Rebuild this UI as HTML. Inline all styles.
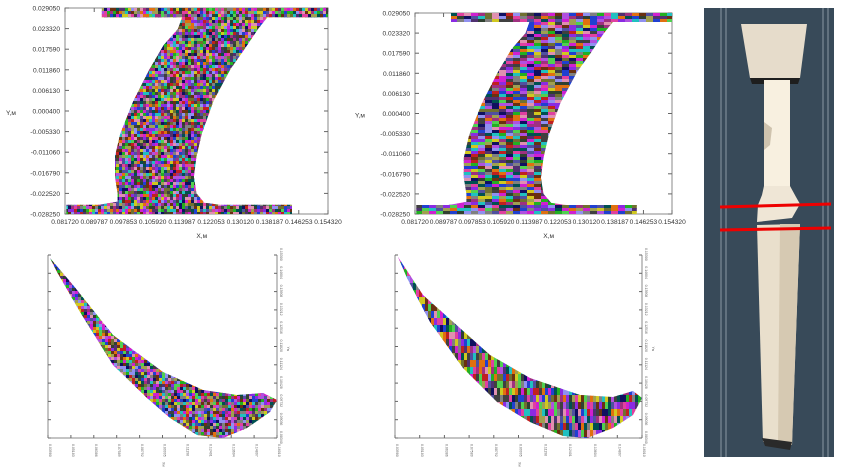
<!DOCTYPE html>
<html><head><meta charset="utf-8">
<style>
html,body{margin:0;padding:0;background:#fff;}
svg{display:block;font-family:"Liberation Sans",sans-serif;}
.tk{font-size:6.6px;fill:#333;}
.sm{font-size:3.5px;fill:#666;}
</style></head>
<body>
<svg id="root" width="848" height="471" viewBox="0 0 848 471" xmlns="http://www.w3.org/2000/svg">
<defs id="defs"></defs>
<g id="plots"></g>
<g id="panel">
  <rect x="704" y="8" width="130" height="449" fill="#384a59"/>
  <line x1="721" y1="8" x2="721" y2="457" stroke="#8a98a4" stroke-width="1"/>
  <line x1="726" y1="8" x2="726" y2="457" stroke="#8a98a4" stroke-width="1"/>
  <line x1="823" y1="8" x2="823" y2="457" stroke="#8a98a4" stroke-width="1"/>
  <line x1="828" y1="8" x2="828" y2="457" stroke="#8a98a4" stroke-width="1"/>
  <path d="M741 24 L807 24 L800 78 L750 78 Z" fill="#e6dccb"/>
  <path d="M750 78 L800 78 L798 84 L752 84 Z" fill="#1e1e1e"/>
  <rect x="764" y="80" width="26" height="106" fill="#f8f0e0"/>
  <path d="M764 122 L772 128 L770 145 L764 150 Z" fill="#cfc3ae"/>
  <path d="M764 186 L790 186 L796 197 L800 204 L792 218 L757 222 L758 205 L762 195 Z" fill="#efe6d6"/>
  <path d="M757 225 L800 224 L792 445 L763 442 Z" fill="#e9dfcc"/>
  <path d="M780 224 L800 224 L792 445 L778 444 Z" fill="#d6c9b2"/>
  <path d="M762 438 L792 442 L790 450 L765 446 Z" fill="#2a2a2a"/>
  <line x1="720" y1="207" x2="831" y2="204" stroke="#ee0000" stroke-width="3"/>
  <line x1="720" y1="230" x2="831" y2="228" stroke="#ee0000" stroke-width="3"/>
</g>
</svg>
<script>
var xTickLabels = ["0.081720","0.089787","0.097853","0.105920","0.113987","0.122053","0.130120","0.138187","0.146253","0.154320"];
var yTickLabels = ["0.029050","0.023320","0.017590","0.011860","0.006130","0.000400","-0.005330","-0.011060","-0.016790","-0.022520","-0.028250"];
var bxTickLabels = ["0.03980","0.05183","0.06386","0.07589","0.08792","0.09995","0.11198","0.12401","0.13604","0.14807","0.16010"];
var byTickLabels = ["0.15300","0.14604","0.13908","0.13212","0.12516","0.11820","0.11124","0.10428","0.09732","0.09036","0.08340"];
var palette = ["#d020d0","#8a2be2","#22b022","#2040d0","#101060","#6a3010","#707030","#20c0c0","#e090b0","#808080","#e07010","#d0c820","#c02020","#b050e0","#50d050","#404040","#e040a0","#9090f0","#005050","#a0a050","#503070","#5050a0","#a03080","#304030"];

var NS="http://www.w3.org/2000/svg";
var plots=document.getElementById('plots');
var defs=document.getElementById('defs');
var seed=12345;
function rnd(){seed=(seed*1103515245+12345)%2147483648;return seed/2147483648;}
function mk(tag,attrs,parent){var e=document.createElementNS(NS,tag);for(var k in attrs)e.setAttribute(k,attrs[k]);(parent||plots).appendChild(e);return e;}

var iShape=[[0.14,0],[1,0],[1,0.045],[0.77,0.045],[0.735,0.10],[0.68,0.205],[0.63,0.295],[0.565,0.45],[0.52,0.61],[0.50,0.72],[0.49,0.82],[0.50,0.90],[0.53,0.945],[0.59,0.955],[0.863,0.955],[0.863,1],[0.005,1],[0.005,0.955],[0.13,0.955],[0.2,0.94],[0.2,0.90],[0.19,0.82],[0.19,0.72],[0.21,0.61],[0.26,0.45],[0.32,0.30],[0.375,0.18],[0.43,0.10],[0.445,0.045],[0.37,0.045],[0.14,0.045]];
var crescL=[[50,258],[73,285],[113,335],[163,372],[203,390],[237,395],[263,393],[277,400],[270,412],[247,428],[223,438],[197,435],[170,418],[147,398],[113,365],[80,312],[57,272]];
var crescR=[[398,257],[423,295],[490,355],[530,378],[580,395],[613,397],[633,391],[642,398],[633,415],[613,428],[587,438],[563,436],[530,422],[497,402],[463,368],[430,322],[407,278]];

function texture(id,pts,bx,by,bw,bh,cw,ch,name){
  var cp=mk('clipPath',{id:id},defs);
  mk('polygon',{points:pts.map(function(p){return p[0].toFixed(1)+','+p[1].toFixed(1);}).join(' ')},cp);
  var g=mk('g',{'clip-path':'url(#'+id+')'});
  
  
  for(var y=by;y<by+bh;y+=ch){for(var x=bx;x<bx+bw;x+=cw){
    mk('rect',{x:x,y:y,width:cw+0.6,height:ch+0.6,fill:palette[Math.floor(rnd()*palette.length)]},g);
  }}
}

function topPlot(px,py,pw,ph,id,cw,ch,ylx){
  var g=mk('g',{});
  
  
  var sx=function(i){return px+pw*i/(xTickLabels.length-1);};
  var sy=function(i){return py+ph*i/(yTickLabels.length-1);};
  var pts=iShape.map(function(p){return [px+p[0]*pw,py+p[1]*ph];});
  texture('clip'+id,pts,px,py,pw,ph,cw,ch,'grain-structure-'+id);
  var fr=mk('rect',{x:px,y:py,width:pw,height:ph,fill:'none',stroke:'#888','stroke-width':1},g);
  
  
  xTickLabels.forEach(function(l,i){
    var x=sx(i);
    mk('line',{x1:x,y1:py+ph,x2:x,y2:py+ph-4,stroke:'#666'},g);
    mk('line',{x1:x,y1:py,x2:x,y2:py+4,stroke:'#666'},g);
    var t=mk('text',{x:x,y:py+ph+10,'text-anchor':'middle','class':'tk'},g);
    t.textContent=l;
    
    
  });
  yTickLabels.forEach(function(l,i){
    var y=sy(i);
    mk('line',{x1:px,y1:y,x2:px+4,y2:y,stroke:'#666'},g);
    mk('line',{x1:px+pw,y1:y,x2:px+pw-4,y2:y,stroke:'#666'},g);
    var t=mk('text',{x:px-5,y:y+2.5,'text-anchor':'end','class':'tk'},g);
    t.textContent=l;
    
    
  });
  var xt=mk('text',{x:px+pw*0.52,y:py+ph+24,'text-anchor':'middle','class':'tk'},g);
  xt.textContent='X,м';
  
  
  var yt=mk('text',{x:ylx,y:py+ph*0.52,'text-anchor':'start','class':'tk'},g);
  yt.textContent='Y,м';
  
  
}

function botPlot(px,py,pw,ph,id,pts,cw,ch){
  var g=mk('g',{});
  
  
  texture('clip'+id,pts,px,py,pw,ph,cw,ch,'grain-structure-'+id);
  mk('line',{x1:px,y1:py,x2:px,y2:py+ph,stroke:'#888'},g);
  mk('line',{x1:px,y1:py+ph,x2:px+pw,y2:py+ph,stroke:'#888'},g);
  mk('line',{x1:px+pw,y1:py,x2:px+pw,y2:py+ph,stroke:'#888'},g);
  bxTickLabels.forEach(function(l,i){
    var x=px+pw*i/(bxTickLabels.length-1);
    mk('line',{x1:x,y1:py+ph,x2:x,y2:py+ph-3,stroke:'#666'},g);
    var t=mk('text',{x:0,y:0,'class':'sm',transform:'translate('+(x+1.2)+','+(py+ph+6)+') rotate(90)'},g);
    t.textContent=l;
    
    
  });
  byTickLabels.forEach(function(l,i){
    var y=py+ph*i/(byTickLabels.length-1);
    mk('line',{x1:px,y1:y,x2:px+3,y2:y,stroke:'#666'},g);
    mk('line',{x1:px+pw,y1:y,x2:px+pw-3,y2:y,stroke:'#666'},g);
    var t=mk('text',{x:0,y:0,'class':'sm',transform:'translate('+(px+pw+3)+','+(y-7)+') rotate(90)'},g);
    t.textContent=l;
    
    
  });
  var xt=mk('text',{x:0,y:0,'class':'sm',transform:'translate('+(px+pw*0.5)+','+(py+ph+24)+') rotate(90)'},g);
  xt.textContent='Xм';
  
  
  var yt=mk('text',{x:0,y:0,'class':'sm',transform:'translate('+(px+pw+10)+','+(py+ph*0.5)+') rotate(90)'},g);
  yt.textContent='Yм';
  
  
}

topPlot(65,8,263,206,'equiaxed',3,3,6);
topPlot(415,13,257,201,'columnar',7,3,355);
botPlot(48,255,229,183,'equiaxed-profile',crescL,3,3);
botPlot(395,255,247,183,'columnar-profile',crescR,3,7);
</script>
</body></html>
